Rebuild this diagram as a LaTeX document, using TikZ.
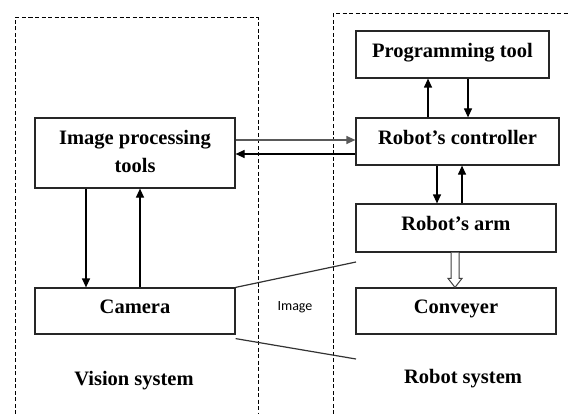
\documentclass[tikz,border=0pt]{standalone}
\usepackage{fontspec}
\setmainfont{Liberation Serif}
\newfontfamily\labelsans{Carlito}
\usetikzlibrary{arrows.meta,calc}
\begin{document}
\begin{tikzpicture}[x=1pt,y=-1pt,
  blk/.style={draw, line width=1.2pt, draw=black!85, minimum width=200pt, font=\bfseries\fontsize{20.5}{28}\selectfont, align=center, inner sep=0pt},
  oneline/.style={text height=16pt, text depth=10.5pt},
  dashbox/.style={line width=1pt, dash pattern=on 4pt off 2.5pt},
  con/.style={line width=1.2pt, -{Triangle[length=9pt,width=8pt]}},
  plain/.style={line width=1.2pt},
  captext/.style={font=\bfseries\fontsize{20.5}{24}\selectfont}]
\useasboundingbox (0,0) rectangle (569,414);
% dashed system frames
\draw[dashbox] (15,414) -- (15,18) -- (258,18) -- (258,414);
\draw[dashbox] (333,414) -- (333,14) -- (569,14);
% blocks
\node[blk, minimum width=200pt, minimum height=70pt] (ipt) at (135,153) {\raisebox{2pt}{\begin{tabular}{@{}c@{}}Image processing\\tools\end{tabular}}};
\node[blk, oneline, minimum width=200pt, minimum height=46pt] (cam) at (135,311) {Camera};
\node[blk, oneline, minimum width=193pt, minimum height=47pt] (pt) at (452.5,54.5) {Programming tool};
\node[blk, oneline, minimum width=203pt, minimum height=47pt] (rc) at (457.5,141.5) {Robot’s controller};
\node[blk, oneline, minimum width=200pt, minimum height=48pt] (arm) at (456,228) {Robot’s arm};
\node[blk, oneline, minimum width=200pt, minimum height=46pt] (conv) at (456,311) {Conveyer};
% captions
\node[captext] (vs) at (134,381) {Vision system};
\node[captext] (rs) at (463,379) {Robot system};
\node[font=\labelsans\fontsize{14}{16}\selectfont] (imgl) at (295,307) {Image};
% connectors
\draw[con, draw=black!65, fill=black] (ipt.east |- 0,140) -- (rc.west |- 0,140);
\draw[con] (rc.west |- 0,154) -- (ipt.east |- 0,154);
\draw[con] (rc.north -| 428,0) -- (pt.south -| 428,0);
\draw[con] (pt.south -| 468,0) -- (rc.north -| 468,0);
\draw[con] (rc.south -| 437,0) -- (arm.north -| 437,0);
\draw[con] (arm.north -| 462,0) -- (rc.south -| 462,0);
\draw[con] (ipt.south -| 86,0) -- (cam.north -| 86,0);
\draw[con] (cam.north -| 140,0) -- (ipt.south -| 140,0);
% hollow arrow arm -> conveyer
\coordinate (ha) at (arm.south -| 455,0);
\coordinate (hb) at (conv.north -| 455,0);
\draw[line width=1pt, draw=black!75, fill=white] ($(ha)+(-4,0)$) -- ($(hb)+(-4,-9)$) -- ($(hb)+(-7,-9)$) -- (hb) -- ($(hb)+(7,-9)$) -- ($(hb)+(4,-9)$) -- ($(ha)+(4,0)$);
% camera view lines
\coordinate (vt) at (356,262);
\coordinate (vb) at (356,359);
\draw[plain, draw=black!80] (cam.north east) -- (vt);
\draw[plain, draw=black!80] ([yshift=-4pt]cam.south east) -- (vb);
\end{tikzpicture}
\end{document}
